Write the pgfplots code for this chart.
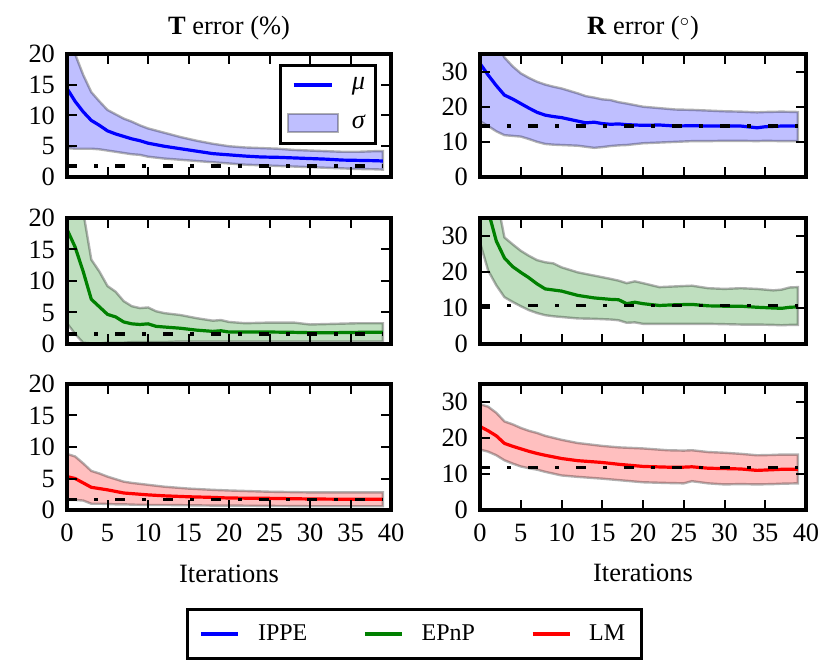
\documentclass[border=0pt]{standalone}
\usepackage{fontspec}
\setmainfont{Liberation Serif}
\usepackage{pgfplots}
\pgfplotsset{compat=1.18}
\usepackage{pgfplotstable}
\usepgfplotslibrary{fillbetween}

\definecolor{mplgreen}{rgb}{0,0.5,0}
\definecolor{bandB}{RGB}{191,191,255}
\definecolor{bandG}{RGB}{191,223,191}
\definecolor{bandR}{RGB}{255,191,191}

% IPPE, translation error
\pgfplotstableread{
x m l u
0 14.4 4.7 24.0
1 12.3 4.6 20.0
2 10.6 4.6 16.6
3 9.2 4.6 13.8
4 8.4 4.5 12.3
5 7.5 4.3 10.9
6 7.0 4.1 10.2
7 6.6 3.9 9.5
8 6.2 3.7 9.0
9 5.9 3.6 8.4
10 5.5 3.3 7.9
12 5.0 3.0 7.2
14 4.6 2.8 6.5
16 4.2 2.6 5.9
18 3.8 2.4 5.4
20 3.6 2.2 5.0
22 3.4 2.0 4.8
24 3.25 1.9 4.7
26 3.2 1.8 4.6
28 3.1 1.7 4.4
30 3.0 1.6 4.3
32 2.9 1.5 4.2
34 2.75 1.4 4.1
36 2.7 1.3 4.1
38 2.65 1.25 4.2
39 2.6 1.2 4.2
}\TLdata

% IPPE, rotation error
\pgfplotstableread{
x m l u
0 32.3 15.9 48
1 29.0 14.5 43
2 26.0 13.0 38.5
3 23.3 11.9 34.0
4 22.2 11.7 31.5
5 20.9 11.5 29.5
6 19.6 10.8 28.2
7 18.4 10.0 27.1
8 17.6 9.4 26.3
9 17.2 9.2 25.7
10 16.9 9.1 25.2
11 16.4 9.0 24.5
12 15.9 8.9 23.8
13 15.4 8.6 23.0
14 15.6 8.3 22.6
15 15.2 8.5 22.1
16 15.0 8.8 21.9
17 15.1 9.0 21.3
18 14.9 9.1 20.9
20 14.7 9.6 20.0
22 14.8 9.8 19.6
24 14.5 10.0 19.2
26 14.6 10.2 19.1
28 14.5 10.2 18.9
30 14.5 10.3 18.7
32 14.5 10.3 18.6
34 14.0 10.2 18.4
35 14.3 10.3 18.5
37 14.5 10.2 18.6
39 14.5 10.2 18.5
}\TRdata

% EPnP, translation error
\pgfplotstableread{
x m l u
0 18.2 3.3 33
1 15.4 1.6 30
2 11.5 0.2 21
3 7.1 0.1 13.4
4 5.9 0.1 11.5
5 4.7 0.2 9.2
6 4.3 0.2 8.3
7 3.5 0.2 6.8
8 3.2 0.3 6.0
9 3.1 0.3 5.7
10 3.2 0.3 5.8
11 2.8 0.3 5.2
12 2.7 0.3 4.9
14 2.5 0.4 4.6
16 2.2 0.4 4.1
18 2.0 0.4 3.7
19 2.1 0.4 3.8
20 1.9 0.4 3.5
22 1.9 0.4 3.3
25 1.9 0.4 3.4
28 1.85 0.4 3.4
30 1.8 0.4 3.1
33 1.8 0.4 3.2
36 1.85 0.4 3.3
39 1.85 0.4 3.3
}\MLdata

% EPnP, rotation error
\pgfplotstableread{
x m l u
0 45 28.2 62
1 37 20.4 54
2 28.6 16.3 41
3 23.9 13.0 29.6
4 21.5 11.7 27.7
5 19.9 10.5 25.9
6 18.4 9.4 24.5
7 16.7 8.6 23.3
8 15.3 8.0 22.7
9 15.0 7.7 22.4
10 14.7 7.5 21.3
12 13.5 7.1 19.9
14 12.8 7.0 19.0
16 12.4 6.8 18.1
17 12.3 6.6 17.6
18 11.2 5.9 16.9
19 11.6 6.0 17.4
20 11.2 5.6 16.9
22 10.7 5.6 15.8
24 10.9 5.6 16.0
26 11.0 5.6 16.2
28 10.6 5.6 15.5
30 10.5 5.5 15.3
32 10.5 5.4 15.5
34 10.2 5.4 15.3
36 10.0 5.3 14.9
37 9.9 5.2 15.1
38 10.2 5.3 15.7
39 10.3 5.3 15.8
}\MRdata

% LM, translation error
\pgfplotstableread{
x m l u
0 5.3 1.6 8.9
1 5.0 1.6 8.5
2 4.3 1.5 7.4
3 3.6 1.0 6.2
4 3.4 1.0 5.8
5 3.2 0.95 5.3
6 2.95 0.9 4.9
7 2.7 0.9 4.5
8 2.6 0.85 4.3
10 2.4 0.8 4.0
12 2.25 0.8 3.7
15 2.1 0.75 3.4
18 2.0 0.7 3.2
20 1.9 0.7 3.1
25 1.85 0.65 2.9
30 1.75 0.6 2.8
35 1.7 0.6 2.8
39 1.7 0.6 2.8
}\BLdata

% LM, rotation error
\pgfplotstableread{
x m l u
0 23.2 16.8 29.4
1 22.0 16.2 28.7
2 20.6 15.2 27.0
3 18.5 13.8 24.6
4 17.7 12.9 23.8
5 17.0 12.1 22.8
6 16.3 11.6 22.0
7 15.7 11.2 21.4
8 15.2 10.6 20.6
10 14.3 9.6 19.5
12 13.7 9.2 18.6
15 13.2 8.7 17.8
17 12.7 8.3 17.4
20 12.1 7.7 17.1
23 11.9 7.5 16.6
25 11.9 7.4 16.5
26 12.0 8.0 16.6
28 11.6 7.4 16.1
30 11.5 7.1 15.9
32 11.4 7.2 15.6
34 11.0 7.1 15.2
36 11.2 7.2 15.3
37 11.3 7.3 15.4
39 11.3 7.4 15.4
}\BRdata

\pgfplotsset{
  bandedge/.style={draw=black, draw opacity=0.3, line width=1.2pt},
  meanline/.style={line width=1.6pt},
  refline/.style={black, line width=1.6pt, dash pattern=on 5pt off 8.5pt on 2pt off 8.5pt},
  mulegend/.style={legend image code/.code={\draw[##1] (3pt,0pt) -- (22pt,0pt);}},
  sigmalegend/.style={legend image code/.code={\draw[##1] (0pt,-4.5pt) rectangle (25pt,4.5pt);}},
  linelegend/.style={legend image code/.code={\draw[##1] (0pt,0pt) -- (18.5pt,0pt);}},
  panel/.style={
    scale only axis, width=162pt, height=63pt,
    xmin=0, xmax=40, ymin=0,
    xtick={0,5,...,40},
    tick align=inside,
    major tick length=5pt,
    tick style={black, line width=1pt},
    axis line style={black, line width=1.6pt},
    axis on top,
    /pgf/number format/assume math mode=true,
    tick label style={font=\rmfamily\fontsize{13.2}{16}\selectfont},
    xticklabel style={anchor=base, yshift=-15.8pt},
    yticklabel style={anchor=east, xshift=-2.5pt},
    every axis title/.style={at={(0.5,1)}, anchor=base, yshift=9.5pt, font=\fontsize{13.2}{16}\selectfont},
    every axis x label/.style={at={(0.5,0)}, anchor=base, yshift=-36pt, font=\fontsize{13.2}{16}\selectfont},
  },
  Tpanel/.style={panel, ymax=20, ytick={0,5,10,15,20}},
  Rpanel/.style={panel, width=163pt, ymax=35, ytick={0,10,20,30}},
}

\begin{document}
\begin{tikzpicture}
\path (0,0) rectangle (415pt,-331pt);

% ---------- top left: IPPE T ----------
\begin{axis}[Tpanel, at={(33.5pt,-27pt)}, anchor=north west, height=61.5pt,
  title={\textbf{T} error (\%)}, xticklabels={},
  legend cell align=left,
  legend style={at={(0.958,0.92)}, anchor=north east, draw=black, line width=1.6pt, fill=white,
    inner xsep=3pt, inner ysep=4pt, row sep=7pt, font=\fontsize{13.2}{16}\selectfont,
    /tikz/every odd column/.append style={column sep=4.5pt}}]
  \addlegendimage{blue, line width=1.6pt, mulegend}
  \addlegendentry{\textit{μ}}
  \addlegendimage{fill=bandB, draw=black, draw opacity=0.3, line width=1.2pt, sigmalegend}
  \addlegendentry{\textit{σ}}
  \addplot[name path=U, draw=none, forget plot] table[x=x, y=u] {\TLdata};
  \addplot[name path=L, draw=none, forget plot] table[x=x, y=l] {\TLdata};
  \addplot[fill=bandB, bandedge, forget plot] fill between[of=U and L];
  \addplot[meanline, blue, forget plot] table[x=x, y=m] {\TLdata};
  \addplot[refline, forget plot] coordinates {(0,1.8) (39,1.8)};
\end{axis}

% ---------- top right: IPPE R ----------
\begin{axis}[Rpanel, at={(240pt,-27pt)}, anchor=north west, height=61.5pt,
  title={\textbf{R} error ($^{\circ}$)}, xticklabels={}]
  \addplot[name path=U, draw=none, forget plot] table[x=x, y=u] {\TRdata};
  \addplot[name path=L, draw=none, forget plot] table[x=x, y=l] {\TRdata};
  \addplot[fill=bandB, bandedge, forget plot] fill between[of=U and L];
  \addplot[meanline, blue, forget plot] table[x=x, y=m] {\TRdata};
  \addplot[refline, forget plot] coordinates {(0,14.5) (39,14.5)};
\end{axis}

% ---------- middle left: EPnP T ----------
\begin{axis}[Tpanel, at={(33.5pt,-109pt)}, anchor=north west, xticklabels={}]
  \addplot[name path=U, draw=none, forget plot] table[x=x, y=u] {\MLdata};
  \addplot[name path=L, draw=none, forget plot] table[x=x, y=l] {\MLdata};
  \addplot[fill=bandG, bandedge, forget plot] fill between[of=U and L];
  \addplot[meanline, mplgreen, forget plot] table[x=x, y=m] {\MLdata};
  \addplot[refline, forget plot] coordinates {(0,1.6) (39,1.6)};
\end{axis}

% ---------- middle right: EPnP R ----------
\begin{axis}[Rpanel, at={(240pt,-109pt)}, anchor=north west, xticklabels={}]
  \addplot[name path=U, draw=none, forget plot] table[x=x, y=u] {\MRdata};
  \addplot[name path=L, draw=none, forget plot] table[x=x, y=l] {\MRdata};
  \addplot[fill=bandG, bandedge, forget plot] fill between[of=U and L];
  \addplot[meanline, mplgreen, forget plot] table[x=x, y=m] {\MRdata};
  \addplot[refline, forget plot] coordinates {(0,10.8) (39,10.8)};
\end{axis}

% ---------- bottom left: LM T ----------
\begin{axis}[Tpanel, at={(33.5pt,-192pt)}, anchor=north west,
  xlabel={Iterations},
  legend columns=3,
  legend style={at={(1.0725,-0.778)}, anchor=north, draw=black, line width=1.6pt, fill=white,
    inner xsep=6pt, inner ysep=5.5pt, font=\fontsize{12}{14}\selectfont,
    /tikz/every odd column/.append style={column sep=7pt},
    /tikz/every even column/.append style={column sep=26pt}}]
  \addlegendimage{blue, line width=1.6pt, linelegend}
  \addlegendentry{IPPE}
  \addlegendimage{mplgreen, line width=1.6pt, linelegend}
  \addlegendentry{EPnP}
  \addlegendimage{red, line width=1.6pt, linelegend}
  \addlegendentry{LM}
  \addplot[name path=U, draw=none, forget plot] table[x=x, y=u] {\BLdata};
  \addplot[name path=L, draw=none, forget plot] table[x=x, y=l] {\BLdata};
  \addplot[fill=bandR, bandedge, forget plot] fill between[of=U and L];
  \addplot[meanline, red, forget plot] table[x=x, y=m] {\BLdata};
  \addplot[refline, forget plot] coordinates {(0,1.7) (39,1.7)};
\end{axis}

% ---------- bottom right: LM R ----------
\begin{axis}[Rpanel, at={(240pt,-192pt)}, anchor=north west,
  xlabel={Iterations}]
  \addplot[name path=U, draw=none, forget plot] table[x=x, y=u] {\BRdata};
  \addplot[name path=L, draw=none, forget plot] table[x=x, y=l] {\BRdata};
  \addplot[fill=bandR, bandedge, forget plot] fill between[of=U and L];
  \addplot[meanline, red, forget plot] table[x=x, y=m] {\BRdata};
  \addplot[refline, forget plot] coordinates {(0,11.8) (39,11.8)};
\end{axis}
\end{tikzpicture}
\end{document}
